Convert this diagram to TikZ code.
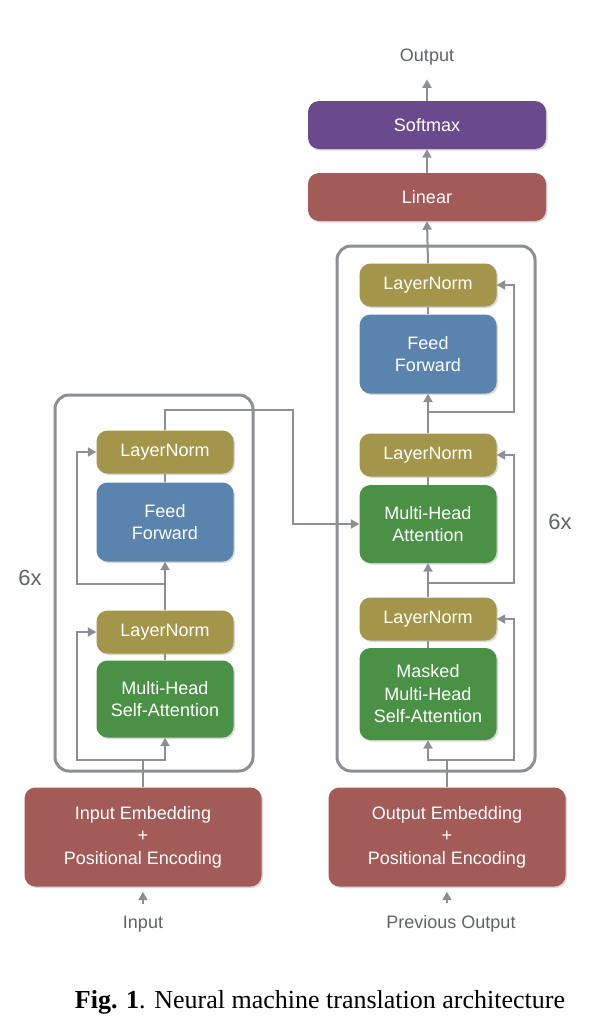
\documentclass[tikz,border=0pt]{standalone}
\usepackage{fontspec}
\setmainfont{Liberation Sans}
\newfontfamily\capfont{Liberation Serif}
\usetikzlibrary{arrows.meta,shadows}

\definecolor{linkgray}{HTML}{8C8F93}
\definecolor{labelgray}{HTML}{5F6368}
\definecolor{embred}{HTML}{A25B57}
\definecolor{softpurple}{HTML}{6A4A8C}
\definecolor{normolive}{HTML}{A39549}
\definecolor{ffblue}{HTML}{5A83AE}
\definecolor{attgreen}{HTML}{4A9146}

\tikzset{
  blk/.style={rounded corners=11pt, text=white, align=center, inner sep=0pt,
    font=\fontsize{18}{22.5}\selectfont,
    drop shadow={opacity=0.3, shadow xshift=1.5pt, shadow yshift=-1.5pt}},
  normbox/.style={blk, fill=normolive, minimum width=137pt, minimum height=43pt},
  ffbox/.style={blk, fill=ffblue, minimum width=137pt, minimum height=79pt},
  attbox/.style={blk, fill=attgreen, minimum width=137pt},
  widebox/.style={blk, minimum width=238pt, minimum height=48pt},
  embbox/.style={blk, fill=embred, minimum width=237pt, minimum height=99pt},
  stackframe/.style={draw=linkgray, line width=3pt, rounded corners=14pt, inner sep=0pt},
  lbl/.style={text=labelgray, inner sep=0pt, font=\fontsize{18}{20}\selectfont},
  replbl/.style={text=labelgray, inner sep=0pt, font=\fontsize{22}{24}\selectfont},
  link/.style={draw=linkgray, line width=2pt},
  arr/.style={link, -{Triangle[length=8.5pt,width=9pt]}}
}

\begin{document}
\begin{tikzpicture}[x=1pt,y=-1pt]
\useasboundingbox (0,0) rectangle (604,1034);

% stack frames
\node[stackframe, minimum width=198pt, minimum height=376pt] (encframe) at (154,583) {};
\node[stackframe, minimum width=198pt, minimum height=525pt] (decframe) at (436,508.5) {};
\node[replbl] (encrep) at (30,578) {6x};
\node[replbl] (decrep) at (560,522) {6x};

% encoder
\node[embbox] (inemb) at (143,837) {Input Embedding\\+\\Positional Encoding};
\node[lbl] (input) at (143,924) {Input};
\node[attbox, minimum height=77pt] (encatt) at (165,699) {Multi-Head\\Self-Attention};
\node[normbox] (encnorma) at (165,632) {LayerNorm};
\node[ffbox] (encff) at (165,522) {Feed\\Forward};
\node[normbox] (encnormb) at (165,452) {LayerNorm};

% decoder
\node[embbox] (outemb) at (447,837) {Output Embedding\\+\\Positional Encoding};
\node[lbl] (prevout) at (451,924) {Previous Output};
\node[attbox, minimum height=92pt] (decmask) at (428,694) {Masked\\Multi-Head\\Self-Attention};
\node[normbox] (decnorma) at (428,619) {LayerNorm};
\node[attbox, minimum height=78pt] (decatt) at (428,524) {Multi-Head\\Attention};
\node[normbox] (decnormb) at (428,455) {LayerNorm};
\node[ffbox] (decff) at (428,354) {Feed\\Forward};
\node[normbox] (decnormc) at (428,285) {LayerNorm};
\node[widebox, fill=embred] (linear) at (427,197) {Linear};
\node[widebox, fill=softpurple] (softmax) at (427,125) {Softmax};
\node[lbl] (output) at (427,57) {Output};

% joints
\coordinate (encin) at (143,760);
\coordinate (encresa) at (77,760);
\coordinate (encsplit) at (165,584);
\coordinate (encresb) at (77,584);
\coordinate (crossx) at (293,410);
\coordinate (decin) at (447,760);
\coordinate (decresa) at (514,760);
\coordinate (decsplita) at (428,583);
\coordinate (decresb) at (514,583);
\coordinate (decsplitb) at (428,412);
\coordinate (decresc) at (514,412);

% encoder links
\draw[arr, shorten <=12pt, shorten >=5pt] (input.north) -- (inemb.south);
\draw[link] (inemb.north) -- (encin);
\draw[arr] (encin) -| (encatt.south);
\draw[arr] (encin) -- (encresa) |- (encnorma.west);
\draw[link] (encatt.north) -- (encnorma.south);
\draw[arr] (encnorma.north) -- (encff.south);
\draw[arr] (encsplit) -- (encresb) |- (encnormb.west);
\draw[link] (encff.north) -- (encnormb.south);
\draw[arr] (encnormb.north) |- (crossx) |- (decatt.west);

% decoder links
\draw[arr, shorten <=12pt, shorten >=5pt] ([xshift=-4pt]prevout.north) -- (outemb.south);
\draw[link] (outemb.north) -- (decin);
\draw[arr] (decin) -| (decmask.south);
\draw[arr] (decin) -- (decresa) |- (decnorma.east);
\draw[link] (decmask.north) -- (decnorma.south);
\draw[arr] (decnorma.north) -- (decatt.south);
\draw[arr] (decsplita) -- (decresb) |- (decnormb.east);
\draw[link] (decatt.north) -- (decnormb.south);
\draw[arr] (decnormb.north) -- (decff.south);
\draw[arr] (decsplitb) -- (decresc) |- (decnormc.east);
\draw[link] (decff.north) -- (decnormc.south);
\draw[arr] (decnormc.north) -- (linear.south);
\draw[arr] (linear.north) -- (softmax.south);
\draw[arr, shorten >=14pt] (softmax.north) -- (output.south);

% caption
\node[anchor=base, inner sep=0pt, font=\capfont\fontsize{26}{30}\selectfont] (caption) at (320,1008)
  {\textbf{Fig. 1}. Neural machine translation architecture};
\end{tikzpicture}
\end{document}
